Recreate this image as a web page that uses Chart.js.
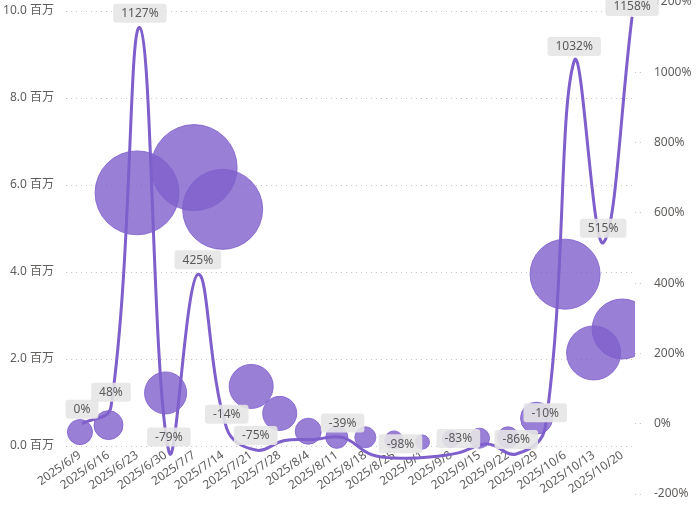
<!DOCTYPE html>
<html>
<head>
<meta charset="utf-8">
<script src="https://cdn.jsdelivr.net/npm/chart.js@4.4.1/dist/chart.umd.min.js"></script>
<style>
    html, body { margin: 0; padding: 0; background: #fff; }
    #wrap { width: 699px; height: 507px; }
</style>
</head>
<body>
<div id="wrap"><canvas id="bubbleChart"></canvas></div>
<script>
// weekly categories
const weeks = ['2025/6/9', '2025/6/16', '2025/6/23', '2025/6/30', '2025/7/7', '2025/7/14', '2025/7/21',
    '2025/7/28', '2025/8/4', '2025/8/11', '2025/8/18', '2025/8/25', '2025/9/1', '2025/9/8',
    '2025/9/15', '2025/9/22', '2025/9/29', '2025/10/6', '2025/10/13', '2025/10/20'];

// bubble values (millions) and bubble size measure
const amountMillions = [0.32, 0.48, 5.82, 1.22, 6.40, 5.44, 1.37, 0.75, 0.34, 0.20, 0.20, 0.14, 0.09,
    0.16, 0.18, 0.20, 0.64, 3.95, 2.14, 2.69];
const bubbleSize = [9.8, 13.1, 110, 27.6, 115.6, 100, 30.3, 18.1, 10.6, 7.6, 6.9, 5.1, 3.1, 4.5, 6.3,
    6.9, 16, 76.6, 45.6, 56.3];

// week-over-week change, %
const changePct = [0, 48, 1127, -79, 425, -14, -75, -48, -45, -39, -88, -98, -95, -83, -58, -86, -10,
    1032, 515, 1158];
// labels hidden by the original (overlap)
const hiddenLabels = [7, 8, 10, 12, 14];

const leftTicks = [0, 2, 4, 6, 8, 10];

const FONT = "'Noto Sans', 'Noto Sans CJK SC', sans-serif";
const PURPLE = '#7F5FCB';

// no extra label padding around the plot, the original lets text spill over
function noPadding(scale) {
    scale.paddingTop = 0;
    scale.paddingBottom = 0;
    scale.paddingLeft = 0;
    scale.paddingRight = 0;
}

const pctLabels = {
    id: 'pctLabels',
    afterDatasetsDraw(chart) {
        const meta = chart.getDatasetMeta(1);
        const ctx = chart.ctx;
        ctx.save();
        ctx.font = '12px ' + FONT;
        ctx.textAlign = 'center';
        ctx.textBaseline = 'middle';
        meta.data.forEach((pt, i) => {
            if (hiddenLabels.includes(i)) return;
            const text = changePct[i] + '%';
            const w = ctx.measureText(text).width + 16;
            const h = 19;
            let top = pt.y - 5 - h;
            if (top < -3) top = -3;
            ctx.fillStyle = 'rgba(230, 230, 230, 0.9)';
            ctx.beginPath();
            ctx.roundRect(pt.x - w / 2, top, w, h, 3);
            ctx.fill();
            ctx.fillStyle = '#5a5a5a';
            ctx.fillText(text, pt.x, top + h / 2 + 0.5);
        });
        ctx.restore();
    }
};

document.addEventListener('DOMContentLoaded', () => {
    const ctx = document.getElementById('bubbleChart').getContext('2d');

    new Chart(ctx, {
        type: 'bubble',
        data: {
            datasets: [
                {
                    label: 'amount',
                    data: amountMillions.map((v, i) => ({ x: i, y: v, r: 4 * Math.sqrt(bubbleSize[i]) })),
                    backgroundColor: 'rgba(128, 96, 204, 0.8)',
                    borderColor: 'rgba(128, 96, 204, 0.85)',
                    borderWidth: 1,
                    xAxisID: 'x',
                    yAxisID: 'y',
                    order: 1
                },
                {
                    type: 'line',
                    label: 'change',
                    data: changePct.map((v, i) => ({ x: i, y: v })),
                    borderColor: PURPLE,
                    borderWidth: 3,
                    pointRadius: 0,
                    tension: 0.4,
                    fill: false,
                    xAxisID: 'x2',
                    yAxisID: 'y2',
                    order: 0
                }
            ]
        },
        options: {
            responsive: true,
            maintainAspectRatio: false,
            animation: false,
            layout: { autoPadding: false, padding: { top: 2, bottom: 13, left: 0, right: 0 } },
            plugins: {
                legend: { display: false },
                tooltip: { enabled: false }
            },
            scales: {
                x: {
                    type: 'linear',
                    position: { y: 0 },
                    min: -0.49,
                    max: 19.45,
                    afterBuildTicks: (scale) => { scale.ticks = weeks.map((w, i) => ({ value: i })); },
                    afterFit: (scale) => { scale.height = 0; noPadding(scale); },
                    grid: { display: false },
                    border: { display: false },
                    ticks: {
                        autoSkip: false,
                        minRotation: 35,
                        maxRotation: 35,
                        padding: -6,
                        color: '#605E5C',
                        font: { family: FONT, size: 12 },
                        callback: (v) => weeks[v]
                    }
                },
                x2: {
                    type: 'linear',
                    axis: 'x',
                    display: false,
                    min: -0.553,
                    max: 19.1
                },
                y: {
                    type: 'linear',
                    position: 'left',
                    min: -1.103,
                    max: 10.207,
                    afterBuildTicks: (scale) => { scale.ticks = leftTicks.map(v => ({ value: v })); },
                    afterFit: (scale) => { scale.width = 66; noPadding(scale); },
                    grid: { color: '#C8C6C4', lineWidth: 1, drawTicks: false },
                    border: { display: false, dash: [1, 4] },
                    ticks: {
                        padding: 12,
                        color: '#605E5C',
                        font: { family: FONT, size: 12 },
                        callback: (v) => v.toFixed(1) + ' 百万'
                    }
                },
                y2: {
                    type: 'linear',
                    position: 'right',
                    min: -200,
                    max: 1200,
                    afterFit: (scale) => { scale.width = 64; noPadding(scale); },
                    grid: {
                        drawOnChartArea: false,
                        drawTicks: true,
                        tickLength: 10,
                        tickColor: '#C8C6C4',
                        tickBorderDash: [1, 4]
                    },
                    border: { display: false },
                    ticks: {
                        stepSize: 200,
                        padding: 9,
                        color: '#605E5C',
                        font: { family: FONT, size: 12 },
                        callback: (v) => v + '%'
                    }
                }
            }
        },
        plugins: [pctLabels]
    });
});
</script>
</body>
</html>
